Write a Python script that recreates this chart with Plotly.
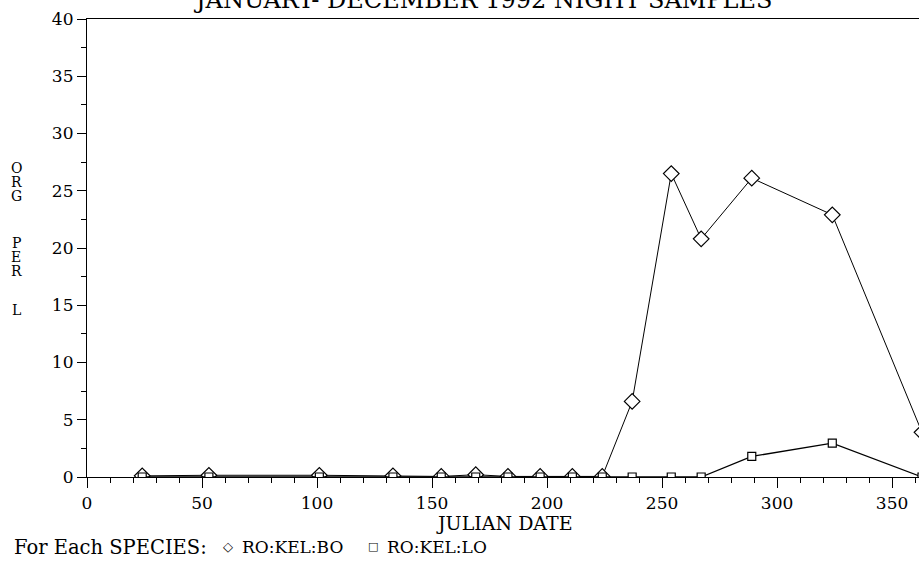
import plotly.graph_objects as go

julian_date = [24, 53, 101, 133, 154, 169, 183, 197, 211, 224, 237, 254, 267, 289, 324, 363]
ro_kel_bo = [0.1, 0.15, 0.15, 0.1, 0.05, 0.2, 0.05, 0.05, 0.05, 0.05, 6.6, 26.5, 20.8, 26.1, 22.9, 3.9]
ro_kel_lo = [0.0, 0.0, 0.0, 0.0, 0.0, 0.0, 0.0, 0.0, 0.0, 0.0, 0.0, 0.0, 0.0, 1.8, 2.95, 0.0]

x_ticks = [0, 50, 100, 150, 200, 250, 300, 350]
y_ticks = [0, 5, 10, 15, 20, 25, 30, 35, 40]
title_text = "JANUARY- DECEMBER 1992 NIGHT SAMPLES"
x_title = "JULIAN DATE"
y_title_letters = ["O", "R", "G", "P", "E", "R", "L"]
legend_lead = "For Each SPECIES:"
legend_names = ["RO:KEL:BO", "RO:KEL:LO"]

W, H = 919, 565
L, R, T, B = 87, 0, 19, 88
PW, PH = W - L - R, H - T - B
FONT = "DejaVu Serif"


def px(xp):
    return (xp - L) / PW


def py(yp):
    return (H - B - yp) / PH


fig = go.Figure()
fig.add_trace(go.Scatter(
    x=julian_date, y=ro_kel_bo, mode="lines+markers", name=legend_names[0],
    line=dict(color="black", width=1),
    marker=dict(symbol="diamond", size=12, color="white", line=dict(color="black", width=1.2)),
    showlegend=False, cliponaxis=True,
))
fig.add_trace(go.Scatter(
    x=julian_date, y=ro_kel_lo, mode="lines+markers", name=legend_names[1],
    line=dict(color="black", width=1.3),
    marker=dict(symbol="square", size=8, color="white", line=dict(color="black", width=1.2)),
    showlegend=False, cliponaxis=True,
))

tickfont = dict(family=FONT, size=17, color="black")
fig.update_xaxes(
    range=[0, 361.7], tickmode="array", tickvals=x_ticks, ticktext=[str(v) for v in x_ticks],
    ticks="outside", ticklen=10, tickwidth=1, tickcolor="black",
    minor=dict(dtick=10, tick0=0, ticks="outside", ticklen=5, tickwidth=1, tickcolor="black"),
    showline=True, linecolor="black", linewidth=1.2, mirror=True,
    showgrid=False, zeroline=False, tickfont=tickfont,
)
fig.update_yaxes(
    range=[0, 40], tickmode="array", tickvals=y_ticks, ticktext=[str(v) for v in y_ticks],
    ticks="outside", ticklen=9, tickwidth=1, tickcolor="black",
    minor=dict(dtick=2.5, tick0=0, ticks="outside", ticklen=5, tickwidth=1, tickcolor="black"),
    showline=True, linecolor="black", linewidth=1.2, mirror=False,
    showgrid=False, zeroline=False, tickfont=tickfont, ticklabelstandoff=0,
)

anns = []
textfont = dict(family=FONT, size=17, color="black")
anns.append(dict(text=title_text, x=px(482), y=py(0), xref="paper", yref="paper",
                 xanchor="center", yanchor="middle", showarrow=False,
                 font=dict(family=FONT, size=24, color="black")))
anns.append(dict(text=x_title, x=px(504), y=py(523), xref="paper", yref="paper",
                 xanchor="center", yanchor="middle", showarrow=False,
                 font=dict(family=FONT, size=19, color="black")))
for letter, yp in zip(y_title_letters, [168, 182, 196, 243, 257, 271, 310]):
    anns.append(dict(text=letter, x=px(16), y=py(yp), xref="paper", yref="paper",
                     xanchor="center", yanchor="middle", showarrow=False,
                     font=dict(family=FONT, size=14, color="black")))
anns.append(dict(text=legend_lead, x=px(12), y=py(547), xref="paper", yref="paper",
                 xanchor="left", yanchor="middle", showarrow=False,
                 font=dict(family=FONT, size=19.5, color="black")))
anns.append(dict(text="\u25c7", x=px(228), y=py(546), xref="paper", yref="paper",
                 xanchor="center", yanchor="middle", showarrow=False,
                 font=dict(family="DejaVu Sans", size=13, color="black")))
anns.append(dict(text=legend_names[0], x=px(240), y=py(547), xref="paper", yref="paper",
                 xanchor="left", yanchor="middle", showarrow=False, font=textfont))
anns.append(dict(text="\u25a1", x=px(373), y=py(546), xref="paper", yref="paper",
                 xanchor="center", yanchor="middle", showarrow=False,
                 font=dict(family="DejaVu Sans", size=11, color="black")))
anns.append(dict(text=legend_names[1], x=px(385), y=py(547), xref="paper", yref="paper",
                 xanchor="left", yanchor="middle", showarrow=False, font=textfont))

fig.update_layout(
    width=W, height=H, margin=dict(l=L, r=R, t=T, b=B, pad=0),
    paper_bgcolor="white", plot_bgcolor="white",
    annotations=anns, showlegend=False,
)
fig.write_html("out.html", config={"displayModeBar": False},
               post_script="document.body.style.margin='0';")
